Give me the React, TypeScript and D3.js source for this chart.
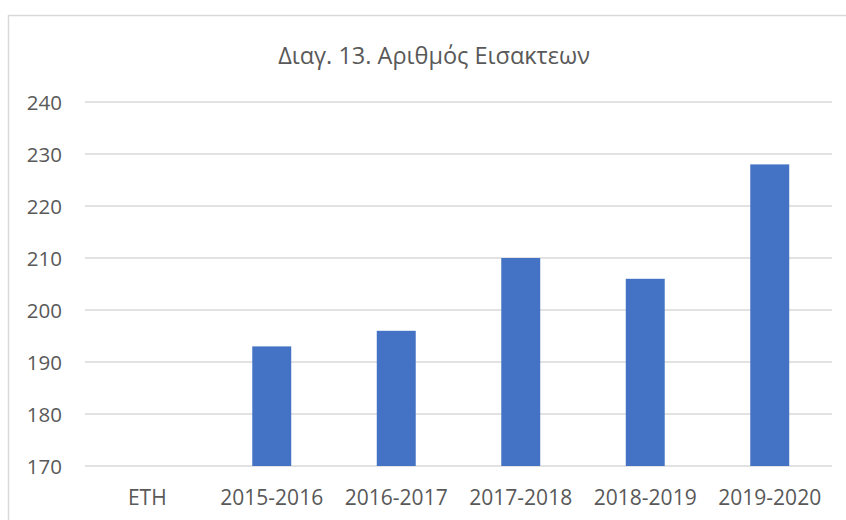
import React from "react";
import * as d3 from "d3";

const title = "Διαγ. 13. Αριθμός Εισακτεων";
const categories = ["ETH", "2015-2016", "2016-2017", "2017-2018", "2018-2019", "2019-2020"];
const values: (number | null)[] = [null, 193, 196, 210, 206, 228];
const yTicks = [170, 180, 190, 200, 210, 220, 230, 240];

const W = 846;
const H = 520;
const plotLeft = 85;
const plotRight = 832;
const plotTop = 102;
const plotBottom = 466;
const font = "'Open Sans', sans-serif";
const textColor = "#595959";

export default function App() {
  const x = d3.scaleBand<string>().domain(categories).range([plotLeft, plotRight]).paddingInner(0.687).paddingOuter(0.3435);
  const y = d3.scaleLinear().domain([170, 240]).range([plotBottom, plotTop]);

  return (
    <svg width={W} height={H} style={{ position: "absolute", left: 0, top: 0, background: "#fff" }}>
      <rect x={0} y={0} width={W} height={H} fill="#fff" />
      <line x1={8.5} y1={15} x2={8.5} y2={H} stroke="#d9d9d9" strokeWidth={1.5} />
      <line x1={8} y1={15.5} x2={W} y2={15.5} stroke="#d9d9d9" strokeWidth={1.5} />
      <text x={434} y={64} textAnchor="middle" fontFamily={font} fontSize={23.5} fill={textColor}>
        {title}
      </text>
      {yTicks.map((t) => (
        <g key={t}>
          <line x1={plotLeft} x2={plotRight} y1={y(t)} y2={y(t)} stroke="#d9d9d9" strokeWidth={1.5} />
          <text x={62} y={y(t) + 7.5} textAnchor="end" fontFamily={font} fontSize={20.5} fill={textColor}>
            {t}
          </text>
        </g>
      ))}
      {categories.map((c, i) => {
        const v = values[i];
        const bx = x(c)!;
        return (
          <g key={c}>
            {v !== null && (
              <rect x={bx} y={y(v)} width={x.bandwidth()} height={plotBottom - y(v)} fill="#4472c4" />
            )}
            <text x={bx + x.bandwidth() / 2} y={505} textAnchor="middle" fontFamily={font} fontSize={21} fill={textColor}>
              {c}
            </text>
          </g>
        );
      })}
    </svg>
  );
}
